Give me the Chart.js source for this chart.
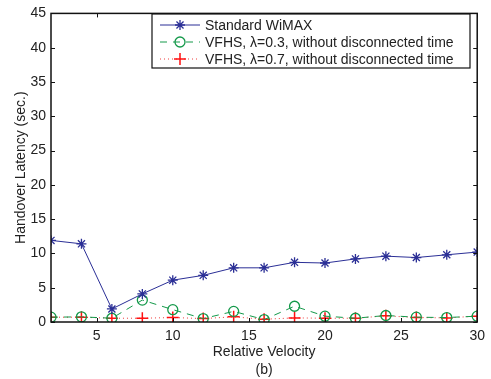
<!DOCTYPE html>
<html>
<head>
<meta charset="utf-8">
<script src="https://cdn.jsdelivr.net/npm/chart.js@4/dist/chart.umd.min.js"></script>
<style>
  html, body { margin: 0; padding: 0; background: #fff; }
  #wrap { width: 491px; height: 379px; }
</style>
</head>
<body>
<div id="wrap"><canvas id="c" width="491" height="379"></canvas></div>
<script>
const velocity = [2, 4, 6, 8, 10, 12, 14, 16, 18, 20, 22, 24, 26, 28, 30];
const standardWimax = [11.9, 11.4, 1.9, 4.1, 6.1, 6.8, 7.9, 7.9, 8.7, 8.6, 9.2, 9.6, 9.4, 9.8, 10.2];
const vfhs03 = [0.7, 0.75, 0.55, 3.2, 1.8, 0.5, 1.55, 0.35, 2.3, 0.85, 0.55, 0.95, 0.7, 0.65, 0.85];
const vfhs07 = [0.7, 0.7, 0.55, 0.55, 0.65, 0.5, 0.75, 0.4, 0.6, 0.55, 0.55, 0.9, 0.65, 0.6, 0.85];
const xTicks = [5, 10, 15, 20, 25, 30];
const seriesNames = ['Standard WiMAX', 'VFHS, \u03bb=0.3, without disconnected time', 'VFHS, \u03bb=0.7, without disconnected time'];

const toPoints = arr => arr.map((v, i) => ({ x: velocity[i], y: v }));

// box around plot + inward ticks on all four sides, MATLAB style
const boxPlugin = {
  id: 'box',
  afterDraw(chart) {
    const { ctx, chartArea: a, scales } = chart;
    ctx.save();
    ctx.strokeStyle = '#111';
    ctx.lineWidth = 1.5;
    ctx.strokeRect(a.left, a.top, a.right - a.left, a.bottom - a.top);
    ctx.lineWidth = 1;
    ctx.beginPath();
    scales.x.ticks.forEach(t => {
      const px = Math.round(scales.x.getPixelForValue(t.value)) + 0.5;
      ctx.moveTo(px, a.bottom); ctx.lineTo(px, a.bottom - 4);
      ctx.moveTo(px, a.top); ctx.lineTo(px, a.top + 4);
    });
    scales.y.ticks.forEach(t => {
      const py = Math.round(scales.y.getPixelForValue(t.value)) + 0.5;
      ctx.moveTo(a.left, py); ctx.lineTo(a.left + 4, py);
      ctx.moveTo(a.right, py); ctx.lineTo(a.right - 4, py);
    });
    ctx.stroke();
    ctx.restore();
  }
};

// legend box in the upper right of the plot
const legendPlugin = {
  id: 'boxLegend',
  afterDraw(chart) {
    const { ctx } = chart;
    const x0 = 152, y0 = 14, w = 318, h = 54;
    ctx.save();
    ctx.fillStyle = '#fff';
    ctx.fillRect(x0, y0, w, h);
    ctx.strokeStyle = '#111';
    ctx.lineWidth = 1.2;
    ctx.strokeRect(x0, y0, w, h);
    ctx.font = '14px "Liberation Sans", Arial, sans-serif';
    ctx.textBaseline = 'middle';
    chart.data.datasets.forEach((ds, i) => {
      const y = y0 + 11 + i * 17;
      ctx.strokeStyle = ds.borderColor;
      ctx.lineWidth = ds.borderWidth;
      ctx.setLineDash(ds.borderDash || []);
      ctx.beginPath();
      ctx.moveTo(x0 + 8, y); ctx.lineTo(x0 + 48, y);
      ctx.stroke();
      ctx.setLineDash([]);
      ctx.strokeStyle = ds.pointBorderColor;
      ctx.fillStyle = ds.backgroundColor;
      ctx.lineWidth = ds.pointBorderWidth;
      Chart.helpers.drawPoint(ctx, {
        pointStyle: ds.pointStyle, radius: ds.pointRadius, borderWidth: ds.pointBorderWidth
      }, x0 + 28, y);
      ctx.fillStyle = '#222';
      ctx.fillText(seriesNames[i], x0 + 53, y + 1);
    });
    ctx.restore();
  }
};

const font = { family: '"Liberation Sans", Arial, sans-serif', size: 14 };

new Chart(document.getElementById('c'), {
  type: 'line',
  data: {
    datasets: [
      {
        label: seriesNames[0], data: toPoints(standardWimax),
        borderColor: '#2b2f96', backgroundColor: '#2b2f96', borderWidth: 1,
        pointStyle: 'star', pointRadius: 5, pointBorderWidth: 1.3, pointBorderColor: '#2b2f96'
      },
      {
        label: seriesNames[1], data: toPoints(vfhs03),
        borderColor: '#14994a', backgroundColor: 'rgba(0,0,0,0)', borderWidth: 1, borderDash: [7, 6],
        pointStyle: 'circle', pointRadius: 5, pointBorderWidth: 1.3, pointBorderColor: '#14994a'
      },
      {
        label: seriesNames[2], data: toPoints(vfhs07),
        borderColor: '#f03a3a', backgroundColor: '#f03a3a', borderWidth: 1, borderDash: [1, 3],
        pointStyle: 'cross', pointRadius: 6, pointBorderWidth: 1.5, pointBorderColor: '#ff1010'
      }
    ]
  },
  options: {
    responsive: false,
    animation: false,
    layout: { padding: { top: 7, right: 11, left: 9, bottom: 0 } },
    plugins: { legend: { display: false }, tooltip: { enabled: false } },
    scales: {
      x: {
        type: 'linear', min: 2, max: 30,
        afterBuildTicks: s => { s.ticks = xTicks.map(v => ({ value: v })); },
        afterFit: s => { s.height = 57; },
        grid: { display: false, drawTicks: false },
        border: { display: false },
        ticks: { color: '#222', font, padding: 6, maxRotation: 0 },
        title: { display: true, text: ['Relative Velocity', '(b)'], color: '#222', font: { ...font, lineHeight: 1.3 }, padding: { top: 4, bottom: 0 } }
      },
      y: {
        min: 0, max: 45,
        afterFit: s => { s.width = 42; },
        grid: { display: false, drawTicks: false },
        border: { display: false },
        ticks: { stepSize: 5, color: '#222', font, padding: 5 },
        title: { display: true, text: 'Handover Latency (sec.)', color: '#222', font, padding: { bottom: 2 } }
      }
    }
  },
  plugins: [boxPlugin, legendPlugin]
});
</script>
</body>
</html>
